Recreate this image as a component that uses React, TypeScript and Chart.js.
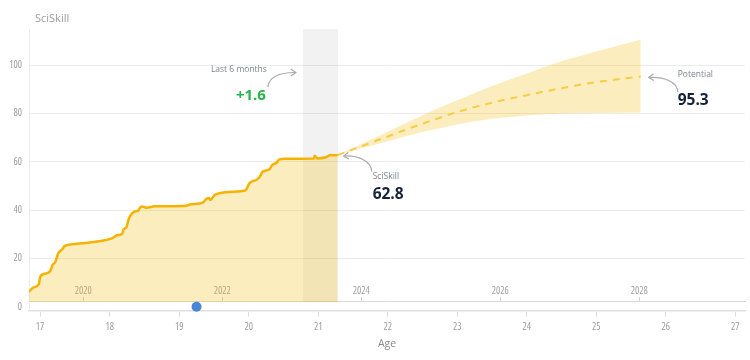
import React, { useEffect, useRef } from 'react';
import { Chart, registerables } from 'chart.js';

Chart.register(...registerables);

const FAMILY = "'Open Sans', 'DejaVu Sans Condensed', sans-serif";
const TICK_STRETCH = 'condensed';

// ---- data ----
const AGES = [16.84, 16.9, 16.98, 17.0, 17.02, 17.14, 17.18, 17.22, 17.26, 17.32, 17.35, 17.5, 18.03, 18.12, 18.18, 18.2, 18.24, 18.27, 18.29, 18.35, 18.41, 18.45, 18.48, 18.53, 18.65, 19.08, 19.17, 19.34, 19.39, 19.43, 19.45, 19.51, 19.58, 19.91, 19.96, 20.01, 20.08, 20.11, 20.16, 20.2, 20.3, 20.34, 20.4, 20.44, 20.53, 20.94, 20.95, 20.99, 21.11, 21.18, 21.24, 21.28];
const SKILL = [6.2, 7.9, 9.3, 12.2, 13.1, 14.5, 17.3, 18.6, 22.1, 23.8, 25.1, 26.0, 28.3, 29.7, 30.1, 32.0, 32.9, 35.9, 37.3, 39.3, 39.8, 41.4, 41.4, 41.0, 41.6, 41.7, 42.4, 43.1, 44.6, 45.0, 44.2, 46.3, 47.0, 47.9, 48.3, 51.1, 52.2, 52.5, 53.8, 55.9, 56.9, 58.7, 59.6, 61.0, 61.3, 61.4, 62.5, 61.4, 61.9, 62.8, 62.7, 62.8];

const PROJ_AGES = [21.28, 22.0, 22.5, 23.0, 23.5, 24.0, 24.5, 25.0, 25.64];
const PROJ_MID = [62.8, 70.5, 75.8, 80.6, 84.5, 87.6, 90.5, 93.0, 95.3];
const PROJ_UPPER = [62.8, 72.5, 79.3, 85.5, 91.4, 96.6, 101.6, 105.7, 110.5];
const PROJ_LOWER = [62.8, 68.5, 72.3, 75.5, 77.8, 79.2, 80.0, 80.2, 80.3];

const MARKER_AGE = [19.25];
const MARKER_VALUE = [0];

const CHANGE_6M = 1.6;
const WINDOW_YEARS = 0.5;
const BIRTH_YEAR = 2002.38;

const AGE_TICKS = [17, 18, 19, 20, 21, 22, 23, 24, 25, 26, 27];
const YEAR_TICKS = [2020, 2022, 2024, 2026, 2028];
const Y_TICKS = [0, 20, 40, 60, 80, 100];
const AGE_MIN = 16.84;
const AGE_MAX = 27.14;
const Y_MIN = -1.6;
const Y_MAX = 115;
const FILL_BASE = 2;

const Y_TITLE = 'SciSkill';
const X_TITLE = 'Age';
const LBL_WINDOW = 'Last 6 months';
const LBL_CURRENT = 'SciSkill';
const LBL_POTENTIAL = 'Potential';

const CURRENT_AGE = AGES[AGES.length - 1];
const CURRENT_VALUE = SKILL[SKILL.length - 1];

function pts(xs: number[], ys: number[]) {
  return xs.map((x, i) => ({ x, y: ys[i] }));
}

function fontStr(size: number, bold = false) {
  return `${bold ? '700' : '400'} ${size}px ${FAMILY}`;
}

function drawArrow(ctx: CanvasRenderingContext2D, p: number[]) {
  const [x0, y0, c1x, c1y, c2x, c2y, x1, y1] = p;
  ctx.beginPath();
  ctx.moveTo(x0, y0);
  ctx.bezierCurveTo(c1x, c1y, c2x, c2y, x1, y1);
  ctx.stroke();
  const ang = Math.atan2(y1 - c2y, x1 - c2x);
  const L = 6;
  ctx.beginPath();
  ctx.moveTo(x1 + L * Math.cos(ang + Math.PI - 0.6), y1 + L * Math.sin(ang + Math.PI - 0.6));
  ctx.lineTo(x1, y1);
  ctx.lineTo(x1 + L * Math.cos(ang + Math.PI + 0.6), y1 + L * Math.sin(ang + Math.PI + 0.6));
  ctx.stroke();
}

const annotationPlugin = {
  id: 'annotations',
  afterDatasetsDraw(chart: any) {
    const { ctx, chartArea, scales } = chart;
    const x = scales.x;
    const y = scales.y;
    ctx.save();
    ctx.textBaseline = 'middle';

    // y title
    ctx.font = fontStr(11);
    ctx.fillStyle = '#9d9d9d';
    ctx.textAlign = 'left';
    ctx.fillText(Y_TITLE, chartArea.left + 6, chartArea.top - 10);

    ctx.strokeStyle = '#ababab';
    ctx.lineWidth = 1.2;

    // last 6 months
    const bx = x.getPixelForValue(CURRENT_AGE - WINDOW_YEARS);
    const top = chartArea.top;
    ctx.font = fontStr(8.5);
    ctx.fillStyle = '#7b8590';
    ctx.textAlign = 'right';
    ctx.fillText(LBL_WINDOW, bx - 36, top + 41);
    ctx.font = fontStr(15, true);
    ctx.fillStyle = '#28b34c';
    ctx.fillText('+' + CHANGE_6M.toFixed(1), bx - 37, top + 67);
    drawArrow(ctx, [bx - 35, top + 58, bx - 34, top + 48, bx - 24, top + 43.5, bx - 7, top + 43.5]);

    // current
    const ex = x.getPixelForValue(CURRENT_AGE);
    const ey = y.getPixelForValue(CURRENT_VALUE);
    ctx.textAlign = 'left';
    ctx.font = fontStr(8.5);
    ctx.fillStyle = '#7b8590';
    ctx.fillText(LBL_CURRENT, ex + 35, ey + 21.5);
    ctx.font = fontStr(15.5, true);
    ctx.fillStyle = '#14213a';
    ctx.fillText(CURRENT_VALUE.toFixed(1), ex + 35, ey + 40);
    drawArrow(ctx, [ex + 34, ey + 16.5, ex + 34, ey + 6, ex + 20, ey, ex + 6, ey + 1]);

    // potential
    const px = x.getPixelForValue(PROJ_AGES[PROJ_AGES.length - 1]);
    const pv = PROJ_MID[PROJ_MID.length - 1];
    const py = y.getPixelForValue(pv);
    ctx.font = fontStr(8.5);
    ctx.fillStyle = '#7b8590';
    ctx.fillText(LBL_POTENTIAL, px + 37, py - 2);
    ctx.font = fontStr(15.5, true);
    ctx.fillStyle = '#14213a';
    ctx.fillText(pv.toFixed(1), px + 37, py + 24);
    drawArrow(ctx, [px + 37, py + 15.5, px + 37, py + 5.5, px + 24, py, px + 8, py + 0.8]);

    ctx.restore();
  },
};

export default function App() {
  const ref = useRef<HTMLCanvasElement>(null);

  useEffect(() => {
    const canvas = ref.current;
    if (!canvas) return;
    const fillYellow = 'rgba(245, 190, 20, 0.28)';
    const tickFont = { family: FAMILY, size: 10, weight: `400 ${TICK_STRETCH}` };
    const chart = new Chart(canvas, {
      type: 'line',
      data: {
        datasets: [
          {
            label: 'marker',
            type: 'scatter',
            data: pts(MARKER_AGE, MARKER_VALUE),
            pointRadius: 5,
            pointBackgroundColor: '#4a86d6',
            pointBorderWidth: 0,
            order: -1,
            clip: false,
          } as any,
          {
            label: 'history',
            data: pts(AGES, SKILL),
            borderColor: '#f5b300',
            borderWidth: 2.5,
            backgroundColor: fillYellow,
            fill: { value: FILL_BASE },
            cubicInterpolationMode: 'monotone',
            pointRadius: 0,
            order: 0,
          },
          {
            label: 'potential',
            data: pts(PROJ_AGES, PROJ_MID),
            borderColor: '#f7cd45',
            borderWidth: 2,
            borderDash: [7, 6],
            fill: false,
            cubicInterpolationMode: 'monotone',
            pointRadius: 0,
            order: 1,
          },
          {
            label: 'upper',
            data: pts(PROJ_AGES, PROJ_UPPER),
            borderWidth: 0,
            borderColor: 'rgba(0,0,0,0)',
            backgroundColor: fillYellow,
            fill: '+1',
            cubicInterpolationMode: 'monotone',
            pointRadius: 0,
            order: 2,
          },
          {
            label: 'lower',
            data: pts(PROJ_AGES, PROJ_LOWER),
            borderWidth: 0,
            borderColor: 'rgba(0,0,0,0)',
            fill: false,
            cubicInterpolationMode: 'monotone',
            pointRadius: 0,
            order: 3,
          },
          {
            label: 'window',
            data: [
              { x: CURRENT_AGE - WINDOW_YEARS, y: Y_MAX },
              { x: CURRENT_AGE + 0.01, y: Y_MAX },
            ],
            borderWidth: 0,
            borderColor: 'rgba(0,0,0,0)',
            backgroundColor: 'rgba(0,0,0,0.05)',
            fill: { value: FILL_BASE },
            pointRadius: 0,
            order: 4,
          },
        ],
      },
      options: {
        animation: false,
        responsive: false,
        layout: { padding: { top: 29, right: 2, left: 0, bottom: 0 } },
        plugins: {
          legend: { display: false },
          tooltip: { enabled: false },
        },
        scales: {
          x: {
            type: 'linear',
            position: 'bottom',
            min: AGE_MIN,
            max: AGE_MAX,
            afterBuildTicks: (s: any) => {
              s.ticks = AGE_TICKS.map((v) => ({ value: v }));
            },
            afterFit: (s: any) => {
              s.height = 49.4;
            },
            grid: { drawOnChartArea: false, tickLength: 6, color: '#dcdcdc' },
            border: { color: '#e0e0e0', width: 1.5 },
            ticks: {
              color: '#9c9c9c',
              font: tickFont,
              padding: 4.5,
              autoSkip: false,
              maxRotation: 0,
              callback: (v: any) => String(v),
            },
            title: {
              display: true,
              text: X_TITLE,
              color: '#8a8a8a',
              font: { family: FAMILY, size: 10.5 },
              padding: { top: 0, bottom: 10 },
            },
          },
          x2: {
            type: 'linear',
            position: { y: FILL_BASE } as any,
            min: AGE_MIN + BIRTH_YEAR,
            max: AGE_MAX + BIRTH_YEAR,
            afterBuildTicks: (s: any) => {
              s.ticks = YEAR_TICKS.map((v) => ({ value: v }));
            },
            grid: { drawOnChartArea: false, tickLength: -5, color: '#d2d2d2' },
            border: { color: '#d8d8d8', width: 1 },
            ticks: {
              color: '#a0a0a0',
              font: tickFont,
              padding: -12,
              autoSkip: false,
              maxRotation: 0,
              callback: (v: any) => String(v),
            },
          },
          y: {
            type: 'linear',
            min: Y_MIN,
            max: Y_MAX,
            afterBuildTicks: (s: any) => {
              s.ticks = Y_TICKS.map((v) => ({ value: v }));
            },
            afterFit: (s: any) => {
              s.width = 29;
            },
            grid: {
              drawTicks: false,
              color: (c: any) => (c.tick && c.tick.value === 0 ? 'rgba(0,0,0,0)' : '#ececec'),
            },
            border: { color: '#ececec' },
            ticks: {
              color: '#9c9c9c',
              font: tickFont,
              padding: 7,
            },
          },
        },
      } as any,
      plugins: [annotationPlugin],
    });
    return () => chart.destroy();
  }, []);

  return (
    <div style={{ position: 'absolute', left: 0, top: 0, width: 750, height: 360, background: '#fff' }}>
      <canvas ref={ref} width={750} height={360} style={{ display: 'block', width: 750, height: 360 }} />
    </div>
  );
}
